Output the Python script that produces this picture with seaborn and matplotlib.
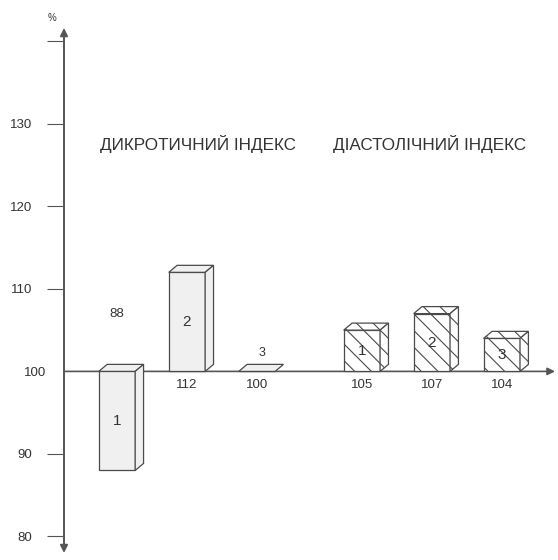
import numpy as np
import pandas as pd
import matplotlib.pyplot as plt
import seaborn as sns

# data (% of baseline = 100)
groups = ["ДИКРОТИЧНИЙ ІНДЕКС", "ДІАСТОЛІЧНИЙ ІНДЕКС"]
bar_ids = ["1", "2", "3"]
dicrotic = [88, 112, 100]
diastolic = [105, 107, 104]
yticks = [80, 90, 100, 110, 120, 130, 140]
ytick_labels = ["80", "90", "100", "110", "120", "130", ""]
base = 100

sns.set_style('white')
plt.rcParams['font.family'] = ['Liberation Sans', 'DejaVu Sans']
plt.rcParams['hatch.linewidth'] = 0.8

fig = plt.figure(figsize=(5.58, 5.60), dpi=100)
ax = fig.add_axes([64/558, 7/560, 491/558, 525/560])

edge = '#4a4a4a'
# positions: three bars per group, wider gap between groups
pos1 = np.arange(len(dicrotic), dtype=float)
pos2 = pos1 + len(dicrotic) + 0.5
df1 = pd.DataFrame({"x": pos1, "h": np.array(dicrotic) - base})
df2 = pd.DataFrame({"x": pos2, "h": np.array(diastolic) - base})

sns.barplot(data=df1, x="x", y="h", native_scale=True, width=0.52, bottom=base,
            color='#f0f0f0', saturation=1, edgecolor=edge, linewidth=0.9, ax=ax, zorder=3)
sns.barplot(data=df2, x="x", y="h", native_scale=True, width=0.52, bottom=base,
            color='white', saturation=1, edgecolor=edge, linewidth=0.9, hatch='\\\\',
            ax=ax, zorder=3)

# fake 3d: side and top faces from drawn bars
dx, dy = 0.12, 0.85
for i, p in enumerate(list(ax.patches)):
    x0, w = p.get_x(), p.get_width()
    y0, h = p.get_y(), p.get_height()
    top, bot = max(y0, y0 + h), min(y0, y0 + h)
    fc = p.get_facecolor()
    hatch = p.get_hatch()
    ax.fill([x0, x0 + w, x0 + w + dx, x0 + dx], [top, top, top + dy, top + dy],
            facecolor=fc, edgecolor=edge, lw=0.9, hatch=hatch, zorder=3)
    if h != 0:
        ax.fill([x0 + w, x0 + w, x0 + w + dx, x0 + w + dx], [bot, top, top + dy, bot + dy],
                facecolor=fc, edgecolor=edge, lw=0.9, hatch=hatch, zorder=3)

# numbers inside bars and values under the axis
for pos, vals in [(pos1, dicrotic), (pos2, diastolic)]:
    for x, v, lab in zip(pos, vals, bar_ids):
        if v == base:
            ax.annotate(lab, (x + 0.07, base), xytext=(0, 13), textcoords='offset points',
                        ha='center', va='center', fontsize=9, color='#333')
        else:
            ax.text(x, (v + base) / 2, lab, ha='center', va='center', fontsize=11, color='#333',
                    zorder=5)
        if v < base:
            ax.annotate(str(v), (x, base), xytext=(0, 41), textcoords='offset points',
                        ha='center', va='center', fontsize=9.5, color='#333')
        else:
            ax.annotate(str(v), (x, base), xytext=(0, -10), textcoords='offset points',
                        ha='center', va='center', fontsize=9.5, color='#333')

ax.text(pos1.mean() + 0.16, 127.6, groups[0], ha='center', va='center', fontsize=12.3, color='#333')
ax.text(pos2.mean() - 0.03, 127.6, groups[1], ha='center', va='center', fontsize=12.3, color='#333')

# axes with arrows
for s in ax.spines.values():
    s.set_visible(False)
ax.set_xlim(-0.757, 6.26)
ax.set_ylim(78, 141.6)
ax.set_xticks([])
ax.set_xlabel('')
ax.set_ylabel('')
ax.set_yticks(yticks)
ax.set_yticklabels(ytick_labels)
ax.tick_params(axis='y', left=True, length=12, width=0.8, color='#555', pad=11,
               labelsize=9.5, labelcolor='#333')
for t, v in zip(ax.yaxis.get_major_ticks(), yticks):
    if v == base:
        t.tick1line.set_visible(False)
        t.set_pad(1)

tr = ax.get_yaxis_transform()
ax.annotate('', xy=(1.0, base), xytext=(0.0, base), xycoords=tr, textcoords=tr,
            arrowprops=dict(arrowstyle='-|>', color='#555', lw=1.2, mutation_scale=11,
                            shrinkA=0, shrinkB=0), zorder=1)
ax.annotate('', xy=(0, 1.0), xytext=(0, 0.0), xycoords='axes fraction',
            arrowprops=dict(arrowstyle='<|-|>', color='#555', lw=1.4, mutation_scale=11,
                            shrinkA=0, shrinkB=0))
fig.text(52/558, 1 - 18/560, '%', fontsize=7, ha='center', va='center', color='#333')

fig.savefig('out.png', dpi=100)
